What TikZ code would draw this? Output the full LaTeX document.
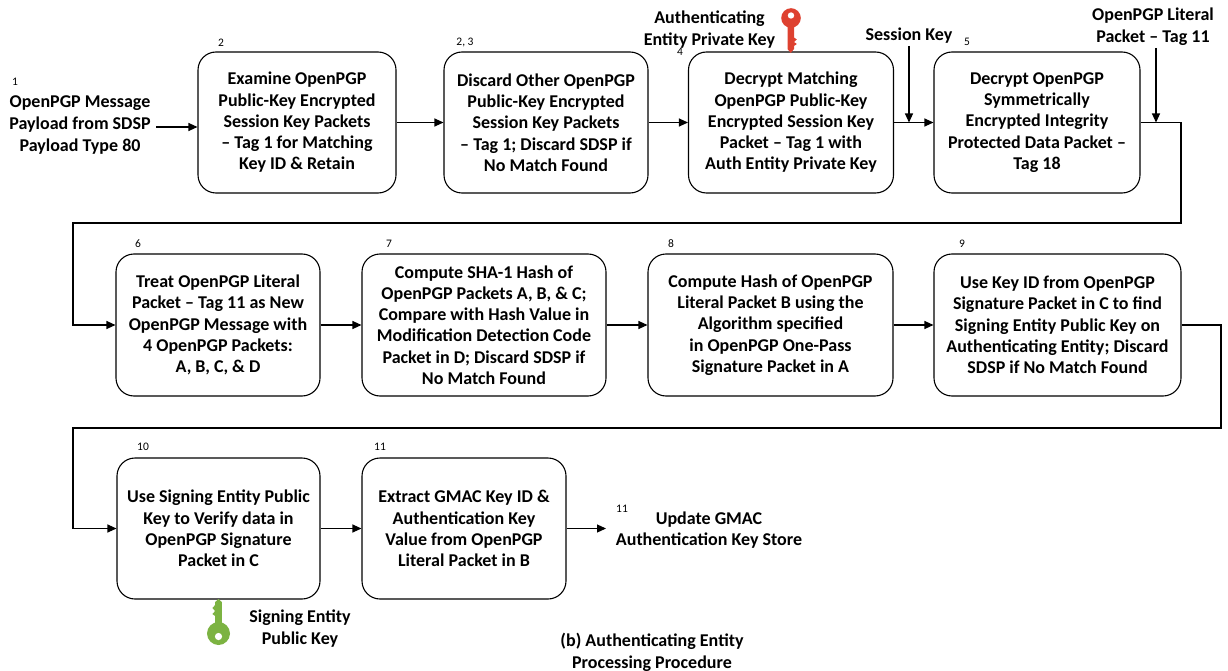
\documentclass[tikz,border=0pt]{standalone}
\usepackage{fontspec}
\setmainfont{Carlito}
\usetikzlibrary{arrows.meta}
\definecolor{keyred}{HTML}{DE4130}
\definecolor{keygreen}{HTML}{7CB342}
\begin{document}
\begin{tikzpicture}[x=1pt,y=-1pt,
  box/.style={draw, line width=1.1pt, rounded corners=18pt, minimum height=141pt, align=center, inner sep=0pt, font=\bfseries\fontsize{18}{21.3}\selectfont},
  lbl/.style={align=center, inner sep=1pt, font=\bfseries\fontsize{18}{21.8}\selectfont},
  num/.style={inner sep=0pt, font=\fontsize{11.5}{13}\selectfont},
  arr/.style={line width=1.1pt, -{Triangle[length=9pt,width=8pt]}},
  ln/.style={line width=1.1pt}]
\useasboundingbox (0,0) rectangle (1228,671);

% row 1
\node[num] (n1) at (15,82) {1};
\node[lbl] (src) at (80,125) {OpenPGP Message\\Payload from SDSP\\Payload Type 80};
\node[num] (n2) at (221,43) {2};
\node[box, minimum width=198pt] (b2) at (297,122.5) {Examine OpenPGP\\Public-Key Encrypted\\Session Key Packets\\– Tag 1 for Matching\\Key ID \& Retain};
\node[num] (n3) at (465,43) {2, 3};
\node[box, minimum width=204pt] (b3) at (546,122.5) {Discard Other OpenPGP\\Public-Key Encrypted\\Session Key Packets\\– Tag 1; Discard SDSP if\\No Match Found};
\node[lbl] (apk) at (709.5,29.5) {Authenticating\\Entity Private Key};
\node[num] (n4) at (680,52) {4};
\node[box, minimum width=205pt] (b4) at (791,122.5) {Decrypt Matching\\OpenPGP Public-Key\\Encrypted Session Key\\Packet – Tag 1 with\\Auth Entity Private Key};
\node[lbl] (sk) at (909,36) {Session Key};
\node[num] (n5) at (967,42) {5};
\node[box, minimum width=206pt] (b5) at (1037,122.5) {Decrypt OpenPGP\\Symmetrically\\Encrypted Integrity\\Protected Data Packet –\\Tag 18};
\node[lbl] (lit) at (1153,26.5) {OpenPGP Literal\\Packet – Tag 11};

% row 2
\node[num] (n6) at (138,244) {6};
\node[box, minimum width=204pt, minimum height=142pt] (b6) at (218,325) {Treat OpenPGP Literal\\Packet – Tag 11 as New\\OpenPGP Message with\\4 OpenPGP Packets:\\A, B, C, \& D};
\node[num] (n7) at (389,244) {7};
\node[box, minimum width=244pt, minimum height=142pt] (b7) at (484,325) {Compute SHA-1 Hash of\\OpenPGP Packets A, B, \& C;\\Compare with Hash Value in\\Modification Detection Code\\Packet in D; Discard SDSP if\\No Match Found};
\node[num] (n8) at (671,244) {8};
\node[box, minimum width=245pt, minimum height=142pt] (b8) at (770.5,325) {Compute Hash of OpenPGP\\Literal Packet B using the\\Algorithm specified\\in OpenPGP One-Pass\\Signature Packet in A};
\node[num] (n9) at (962,244) {9};
\node[box, minimum width=247pt, minimum height=142pt] (b9) at (1057.5,325) {Use Key ID from OpenPGP\\Signature Packet in C to find\\Signing Entity Public Key on\\Authenticating Entity; Discard\\SDSP if No Match Found};

% row 3
\node[num] (n10) at (143,447) {10};
\node[box, minimum width=203pt] (b10) at (218.5,528.5) {Use Signing Entity Public\\Key to Verify data in\\OpenPGP Signature\\Packet in C};
\node[num] (n11) at (380,447) {11};
\node[box, minimum width=204pt] (b11) at (464,528.5) {Extract GMAC Key ID \&\\Authentication Key\\Value from OpenPGP\\Literal Packet in B};
\node[num] (n12) at (622,509) {11};
\node[lbl] (upd) at (709,530) {Update GMAC\\Authentication Key Store};
\node[lbl] (spk) at (300,628.5) {Signing Entity\\Public Key};
\node[lbl] (cap) at (652,652) {(b) Authenticating Entity\\Processing Procedure};

% coordinates
\coordinate (r1) at (1181,223);
\coordinate (l1) at (73,223);
\coordinate (r2) at (1221,428);
\coordinate (l2) at (73,428);
\coordinate (gend) at (606,528.5);
\coordinate (skt) at (909,46);
\coordinate (litt) at (1156,48);
\coordinate (srcp) at (156,127);

% connectors
\draw[arr] (srcp) -- (srcp -| b2.west);
\draw[arr] (b2.east) -- (b3.west);
\draw[arr] (b3.east) -- (b4.west);
\draw[arr] (b4.east) -- (b5.west);
\draw[arr] (skt) -- (skt |- b4.east);
\draw[arr] (litt) -- (litt |- b5.east);
\draw[arr] (b5.east) -| (r1) -- (l1) |- (b6.west);
\draw[arr] (b6.east) -- (b7.west);
\draw[arr] (b7.east) -- (b8.west);
\draw[arr] (b8.east) -- (b9.west);
\draw[arr] (b9.east) -| (r2) -- (l2) |- (b10.west);
\draw[arr] (b10.east) -- (b11.west);
\draw[arr] (b11.east) -- (gend);

% red key
\fill[keyred] (787.5,24) -- (787.5,49) -- (790.7,53) -- (794,49) -- (794,46) -- (796.8,44) -- (794,42) -- (796.8,39.5) -- (794,37.5) -- (794,24) -- cycle;
\fill[keyred] (791,18) circle (9.8);
\fill[white] (791,15.5) circle (3.2);

% green key
\fill[keygreen] (218.5,599) -- (221.8,602) -- (221.8,626) -- (215.2,626) -- (215.2,616) -- (212.3,614) -- (215.2,611) -- (212.3,608) -- (215.2,605) -- (215.2,602) -- cycle;
\fill[keygreen] (218.5,633.5) circle (11.5);
\fill[white] (218.5,636.5) circle (3.6);
\end{tikzpicture}
\end{document}
